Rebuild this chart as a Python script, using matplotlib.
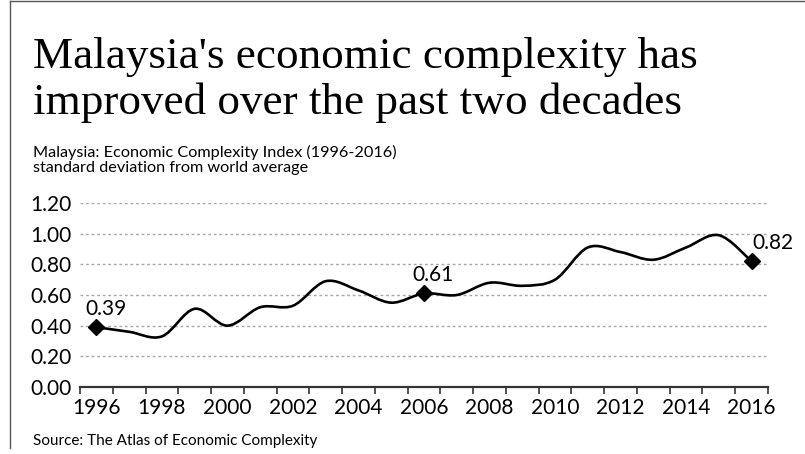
import matplotlib.pyplot as plt
import numpy as np
from matplotlib.path import Path
from matplotlib.patches import PathPatch
from matplotlib.lines import Line2D

# data
years = list(range(1996, 2017))
eci = [0.39, 0.36, 0.33, 0.51, 0.40, 0.52, 0.53, 0.69, 0.63, 0.55, 0.61,
       0.60, 0.68, 0.66, 0.70, 0.91, 0.88, 0.83, 0.91, 0.99, 0.82]
labelled_years = [1996, 2006, 2016]
label_offsets = [(10, 12), (9, 12), (21, 12)]  # pixels from the marker
tick_years = years[::2]
y_ticks = [0.0, 0.2, 0.4, 0.6, 0.8, 1.0, 1.2]

title_lines = ["Malaysia's economic complexity has",
               "improved over the past two decades"]
subtitle_lines = ["Malaysia: Economic Complexity Index (1996-2016)",
                  "standard deviation from world average"]
source = "Source: The Atlas of Economic Complexity"

SANS = ['Lato', 'DejaVu Sans']
SERIF = ['Liberation Serif', 'DejaVu Serif']

W, H = 805, 454
fig = plt.figure(figsize=(W / 100, H / 100), dpi=100)


def fx(px):
    return px / W


def fy(py):
    return 1 - py / H


# frame lines (top and left only)
fig.add_artist(Line2D([fx(9.5), 1], [fy(1), fy(1)], transform=fig.transFigure,
                      color='#555555', lw=1))
fig.add_artist(Line2D([fx(9.5), fx(9.5)], [fy(1), fy(448)], transform=fig.transFigure,
                      color='#555555', lw=1))

# titles
fig.text(fx(33), fy(68), title_lines[0], family=SERIF, fontsize=32.5, va='baseline')
fig.text(fx(33), fy(114), title_lines[1], family=SERIF, fontsize=32.5, va='baseline')
fig.text(fx(33), fy(157), subtitle_lines[0], family=SANS, fontsize=11.7, va='baseline')
fig.text(fx(33), fy(172), subtitle_lines[1], family=SANS, fontsize=11.7, va='baseline')
fig.text(fx(33), fy(445), source, family=SANS, fontsize=11, va='baseline')

ax = fig.add_axes([fx(80), fy(387), fx(768) - fx(80), fy(203) - fy(387)])
x = np.arange(len(years))
y = np.array(eci)

# smooth line: Catmull-Rom segments as cubic Bezier curves
px = np.concatenate([[x[0]], x, [x[-1]]])
py = np.concatenate([[y[0]], y, [y[-1]]])
verts = [(x[0], y[0])]
codes = [Path.MOVETO]
for i in range(1, len(px) - 2):
    c1 = (px[i] + (px[i + 1] - px[i - 1]) / 6, py[i] + (py[i + 1] - py[i - 1]) / 6)
    c2 = (px[i + 1] - (px[i + 2] - px[i]) / 6, py[i + 1] - (py[i + 2] - py[i]) / 6)
    verts += [c1, c2, (px[i + 1], py[i + 1])]
    codes += [Path.CURVE4] * 3
ax.add_patch(PathPatch(Path(verts, codes), fill=False, color='black', lw=1.9,
                       capstyle='round', joinstyle='round', zorder=3))

# labelled points
for yr, (dx, dy) in zip(labelled_years, label_offsets):
    i = years.index(yr)
    ax.plot(x[i], y[i], marker='D', color='black', markersize=8, zorder=4)
    ax.annotate(f"{y[i]:.2f}", (x[i], y[i]), xytext=(dx, dy),
                textcoords='offset pixels', ha='center', va='baseline',
                family=SANS, fontsize=15)

ax.set_xlim(-0.5, len(years) - 0.5)
ax.set_ylim(0, 1.2)

for v in y_ticks[1:]:
    ax.axhline(v, color='#a6a6a6', lw=1, ls=(0, (2, 2)), zorder=1)

ax.set_yticks(y_ticks)
ax.set_yticklabels([f"{v:.2f}" for v in y_ticks], family=SANS, fontsize=15)
ax.tick_params(axis='y', length=0, pad=6)

ax.set_xticks([years.index(t) for t in tick_years])
ax.set_xticklabels([str(t) for t in tick_years], family=SANS, fontsize=15)
ax.set_xticks(np.arange(-0.5, len(years), 1), minor=True)
ax.tick_params(axis='x', which='major', length=0, pad=8)
ax.tick_params(axis='x', which='minor', length=5, width=1.2, color='#333333')

for side in ['top', 'right', 'left']:
    ax.spines[side].set_visible(False)
ax.spines['bottom'].set_color('#333333')
ax.spines['bottom'].set_linewidth(1.6)
ax.patch.set_alpha(0)

fig.savefig('out.png', dpi=100)
